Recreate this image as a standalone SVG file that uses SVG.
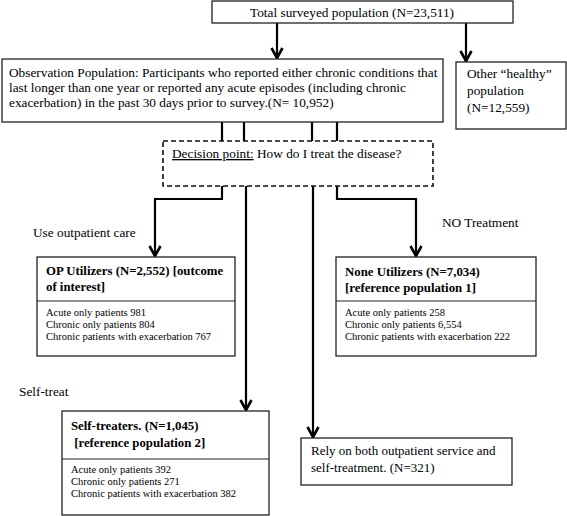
<svg xmlns="http://www.w3.org/2000/svg" width="567" height="516" viewBox="0 0 567 516">
<defs>
<marker id="arr" markerUnits="userSpaceOnUse" markerWidth="16" markerHeight="16" viewBox="-12 -8 16 16" refX="0" refY="0" orient="auto" overflow="visible">
<path d="M-10,-5.5 L0,0 L-10,5.5" fill="none" stroke="#000" stroke-width="2.6"/>
</marker>
<style>
text{font-family:"Liberation Serif","Times New Roman",serif;fill:#000}
.t13{font-size:13.3px}
.r13{font-size:13px}
.b14{font-size:12.8px;font-weight:bold}
.s11{font-size:10.5px}
.box{fill:#fff;stroke:#222;stroke-width:1.3}
.dash{fill:#fff;stroke:#111;stroke-width:1.6;stroke-dasharray:5,3}
.con{fill:none;stroke:#000;stroke-width:2.2}
.div{stroke:#222;stroke-width:1.2}
</style>
</defs>
<rect width="567" height="516" fill="#fff"/>

<g id="connectors">
<path class="con" d="M277,23 V58" marker-end="url(#arr)"/>
<path class="con" d="M466,23 V61" marker-end="url(#arr)"/>
<path class="con" d="M222,122 V141"/>
<path class="con" d="M244,122 V141"/>
<path class="con" d="M312,122 V141"/>
<path class="con" d="M337,122 V141"/>
<path class="con" d="M222,186 V199 H155 V256" marker-end="url(#arr)"/>
<path class="con" d="M246,186 V410" marker-end="url(#arr)"/>
<path class="con" d="M313,186 V437" marker-end="url(#arr)"/>
<path class="con" d="M337,186 V199 H416 V256" marker-end="url(#arr)"/>
</g>

<g id="total">
<rect class="box" x="212" y="1" width="301" height="22"/>
<text class="t13" x="250" y="17">Total surveyed population (N=23,511)</text>
</g>

<g id="observation">
<rect class="box" x="2" y="59" width="441" height="63"/>
<text class="t13" x="9" y="77">Observation Population: Participants who reported either chronic conditions that</text>
<text class="t13" x="9" y="92">last longer than one year or reported any acute episodes (including chronic</text>
<text class="t13" x="9" y="107">exacerbation) in the past 30 days prior to survey.(N= 10,952)</text>
</g>

<g id="healthy">
<rect class="box" x="456" y="62" width="110" height="67"/>
<text class="t13" x="467" y="78">Other “healthy”</text>
<text class="t13" x="467" y="95">population</text>
<text class="t13" x="467" y="112">(N=12,559)</text>
</g>

<g id="decision">
<rect class="dash" x="163" y="141" width="270" height="45"/>
<text class="t13" x="172" y="158"><tspan text-decoration="underline">Decision point:</tspan> How do I treat the disease?</text>
</g>

<g id="labels">
<text class="t13" x="33" y="237">Use outpatient care</text>
<text class="t13" x="442" y="227">NO Treatment</text>
<text class="t13" x="19" y="396">Self-treat</text>
</g>

<g id="op">
<rect class="box" x="37" y="257" width="198" height="99"/>
<line class="div" x1="37" y1="301" x2="235" y2="301"/>
<text class="b14" x="46" y="275">OP Utilizers (N=2,552) [outcome</text>
<text class="b14" x="46" y="291">of interest]</text>
<text class="s11" x="46" y="316">Acute only patients 981</text>
<text class="s11" x="46" y="328">Chronic only patients 804</text>
<text class="s11" x="46" y="340">Chronic patients with exacerbation 767</text>
</g>

<g id="none">
<rect class="box" x="336" y="257" width="200" height="99"/>
<line class="div" x1="336" y1="301" x2="536" y2="301"/>
<text class="b14" x="345" y="276">None Utilizers (N=7,034)</text>
<text class="b14" x="345" y="292">[reference population 1]</text>
<text class="s11" x="345" y="316">Acute only patients 258</text>
<text class="s11" x="345" y="328">Chronic only patients 6,554</text>
<text class="s11" x="345" y="340">Chronic patients with exacerbation 222</text>
</g>

<g id="self">
<rect class="box" x="62" y="411" width="207" height="104"/>
<line class="div" x1="62" y1="459" x2="269" y2="459"/>
<text class="b14" x="71" y="430">Self-treaters. (N=1,045)</text>
<text class="b14" x="71" y="447" xml:space="preserve"> [reference population 2]</text>
<text class="s11" x="71" y="473">Acute only patients 392</text>
<text class="s11" x="71" y="485">Chronic only patients 271</text>
<text class="s11" x="71" y="497">Chronic patients with exacerbation 382</text>
</g>

<g id="both">
<rect class="box" x="301" y="438" width="211" height="47"/>
<text class="r13" x="311" y="455">Rely on both outpatient service and</text>
<text class="r13" x="311" y="472">self-treatment. (N=321)</text>
</g>
</svg>
